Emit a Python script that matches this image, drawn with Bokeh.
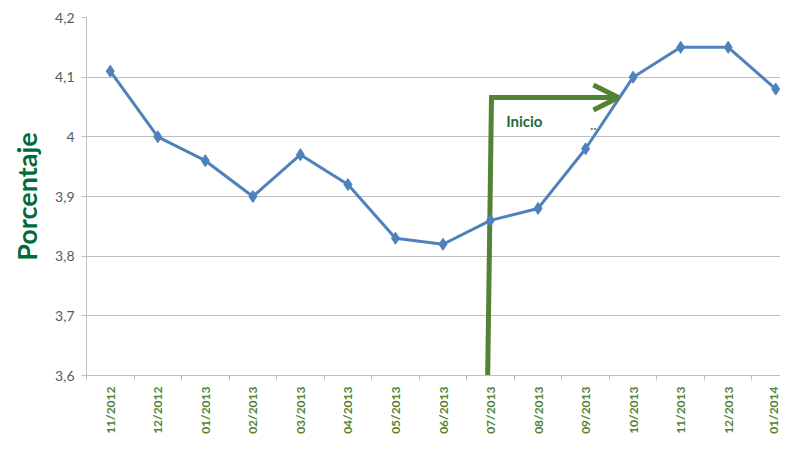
import math
from bokeh.plotting import figure
from bokeh.models import Range1d, FixedTicker, Arrow, OpenHead, Label
from bokeh.embed import file_html
from bokeh.resources import INLINE

months = ["11/2012", "12/2012", "01/2013", "02/2013", "03/2013", "04/2013", "05/2013",
          "06/2013", "07/2013", "08/2013", "09/2013", "10/2013", "11/2013", "12/2013", "01/2014"]
values = [4.11, 4.00, 3.96, 3.90, 3.97, 3.92, 3.83, 3.82, 3.86, 3.88, 3.98, 4.10, 4.15, 4.15, 4.08]
y_ticks = [3.6, 3.7, 3.8, 3.9, 4.0, 4.1, 4.2]
y_labels = ["3,6", "3,7", "3,8", "3,9", "4", "4,1", "4,2"]

xs = [i + 0.5 for i in range(len(months))]

FONT = "Lato"
GREEN = "#548235"

p = figure(width=780, height=436, output_backend="svg", toolbar_location=None,
           x_range=Range1d(0, 14.6), y_range=Range1d(3.6, 4.2),
           min_border_left=86, min_border_top=17, min_border_bottom=56, min_border_right=0)
p.outline_line_color = None
p.background_fill_color = "white"
p.border_fill_color = "white"

# x axis: tick marks between categories, labels centred on categories
p.xaxis.ticker = FixedTicker(ticks=xs, minor_ticks=list(range(len(months))))
p.xaxis.major_label_overrides = {x: m for x, m in zip(xs, months)}
p.xaxis.major_label_orientation = math.pi / 2
p.xaxis.major_label_text_font = FONT
p.xaxis.major_label_text_font_style = "bold"
p.xaxis.major_label_text_font_size = "12px"
p.xaxis.major_label_text_color = GREEN
p.xaxis.major_tick_line_color = None
p.xaxis.minor_tick_line_color = "#bfbfbf"
p.xaxis.minor_tick_out = 5
p.xaxis.minor_tick_in = 0
p.xaxis.axis_line_color = "#bfbfbf"
p.xaxis.major_label_standoff = 5
p.xgrid.grid_line_color = None

# y axis
p.yaxis.ticker = FixedTicker(ticks=y_ticks)
p.yaxis.major_label_overrides = {t: l for t, l in zip(y_ticks, y_labels)}
p.yaxis.major_label_text_font = FONT
p.yaxis.major_label_text_font_size = "14px"
p.yaxis.major_label_text_color = "#595959"
p.yaxis.major_tick_line_color = "#bfbfbf"
p.yaxis.major_tick_out = 5
p.yaxis.major_tick_in = 0
p.yaxis.minor_tick_line_color = None
p.yaxis.axis_line_color = "#bfbfbf"
p.yaxis.major_label_standoff = 7
p.yaxis.axis_label = "Porcentaje"
p.yaxis.axis_label_text_font = FONT
p.yaxis.axis_label_text_font_style = "bold"
p.yaxis.axis_label_text_font_size = "27px"
p.yaxis.axis_label_text_color = "#006b3c"
p.yaxis.axis_label_standoff = 9
p.ygrid.grid_line_color = "#bfbfbf"
p.ygrid.grid_line_width = 1

# annotation arrow (bent)
arrow_x0, arrow_x1, arrow_xend, arrow_y = 8.44, 8.52, 11.19, 4.066
p.line([arrow_x0, arrow_x1], [3.6, arrow_y], line_color=GREEN, line_width=5)
p.add_layout(Arrow(end=OpenHead(line_color=GREEN, line_width=5, size=25),
                   x_start=arrow_x1 - 0.05, y_start=arrow_y, x_end=arrow_xend, y_end=arrow_y,
                   line_color=GREEN, line_width=5))
p.add_layout(Label(x=8.83, y=4.012, text="Inicio", text_font=FONT, text_font_style="bold",
                   text_font_size="15px", text_color="#1e6b3c"))
p.add_layout(Label(x=10.6, y=4.012, text="..", text_font=FONT, text_font_style="bold",
                   text_font_size="13px", text_color=GREEN))

# data series
p.line(xs, values, line_color="#4f81bd", line_width=3)
p.scatter(xs, values, marker="diamond", size=12, fill_color="#4f81bd", line_color="#4f81bd")

open("out.html", "w").write(file_html(p, INLINE))
